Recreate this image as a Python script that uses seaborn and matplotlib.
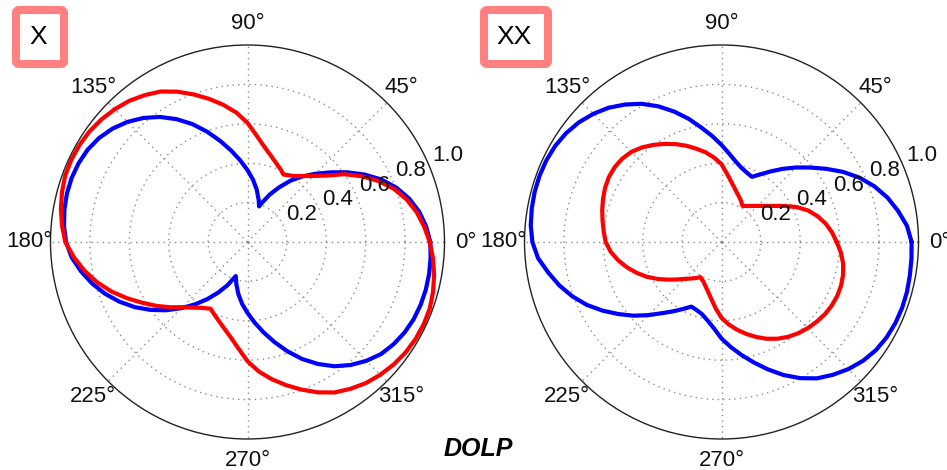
import numpy as np
import matplotlib
matplotlib.use("Agg")
import matplotlib.pyplot as plt
import seaborn as sns
from matplotlib.patches import FancyBboxPatch
from matplotlib.transforms import IdentityTransform, offset_copy

# ---------------- data ----------------
panel_labels = ["X", "XX"]
angle_ticks = [0, 45, 90, 135, 180, 225, 270, 315]
angle_tick_labels = ["0°", "45°", "90°", "135°", "180°", "225°", "270°", "315°"]
radial_ticks = [0.2, 0.4, 0.6, 0.8, 1.0]
radial_tick_labels = ["0.2", "0.4", "0.6", "0.8", "1.0"]

# panel X, blue curve (angle in degrees, DOLP)
x_blue_theta = [0, 5, 10, 15, 20, 25, 30, 35, 40, 45, 50, 55, 60, 65, 70, 72, 75, 80, 85, 90,
                95, 100, 105, 110, 115, 120, 125, 130, 135, 140, 145, 150, 155, 160, 165, 170,
                175, 180, 185, 190, 195, 200, 205, 210, 215, 220, 225, 230, 235, 240, 245, 251,
                255, 260, 265, 270, 275, 280, 285, 290, 295, 300, 305, 310, 315, 320, 325, 330,
                335, 340, 345, 350, 355, 360]
x_blue_r = [0.928, 0.91, 0.885, 0.85, 0.805, 0.75, 0.685, 0.617, 0.55, 0.49, 0.435, 0.38, 0.32,
            0.265, 0.21, 0.19, 0.22, 0.27, 0.318, 0.365, 0.415, 0.47, 0.53, 0.595, 0.66, 0.72,
            0.775, 0.822, 0.862, 0.895, 0.92, 0.937, 0.946, 0.95, 0.949, 0.944, 0.935, 0.921,
            0.896, 0.858, 0.816, 0.769, 0.717, 0.661, 0.601, 0.539, 0.475, 0.413, 0.353, 0.296,
            0.243, 0.183, 0.22, 0.268, 0.315, 0.36, 0.41, 0.465, 0.525, 0.59, 0.655, 0.715,
            0.77, 0.815, 0.853, 0.885, 0.905, 0.92, 0.93, 0.935, 0.937, 0.936, 0.933, 0.928]

# panel X, red curve
x_red_theta = [0, 5, 10, 15, 20, 25, 30, 35, 40, 45, 50, 55, 62, 65, 70, 75, 80, 85, 90,
               95, 100, 105, 110, 115, 120, 125, 130, 135, 140, 145, 150, 155, 160, 165, 170,
               175, 180, 185, 190, 195, 200, 205, 210, 215, 220, 225, 230, 235, 241, 245, 250,
               255, 260, 265, 270, 275, 280, 285, 290, 295, 300, 305, 310, 315, 320, 325, 330,
               335, 340, 345, 350, 355, 360]
x_red_r = [0.925, 0.9, 0.872, 0.836, 0.79, 0.733, 0.668, 0.6, 0.525, 0.474, 0.437, 0.409, 0.388,
           0.403, 0.426, 0.455, 0.491, 0.541, 0.605, 0.66, 0.707, 0.752, 0.797, 0.842, 0.882,
           0.91, 0.935, 0.953, 0.968, 0.979, 0.985, 0.987, 0.985, 0.975, 0.962, 0.945, 0.925,
           0.885, 0.84, 0.79, 0.735, 0.675, 0.617, 0.565, 0.515, 0.468, 0.435, 0.408, 0.387,
           0.403, 0.426, 0.455, 0.491, 0.541, 0.605, 0.66, 0.707, 0.752, 0.797, 0.842, 0.882,
           0.91, 0.935, 0.953, 0.968, 0.979, 0.985, 0.987, 0.985, 0.975, 0.962, 0.945, 0.925]

# panel XX, blue curve
xx_blue_theta = [0, 5, 10, 15, 20, 25, 30, 35, 40, 45, 50, 55, 60, 65, 70, 75, 80, 85, 90,
                 95, 100, 105, 110, 115, 120, 125, 130, 135, 140, 145, 150, 155, 160, 165, 170,
                 175, 180, 185, 190, 195, 200, 205, 210, 215, 220, 225, 230, 235, 240, 245, 250,
                 255, 260, 265, 270, 275, 280, 285, 290, 295, 300, 305, 310, 315, 320, 325, 330,
                 335, 340, 345, 350, 355, 360]
xx_blue_r = [0.965, 0.945, 0.91, 0.872, 0.826, 0.773, 0.712, 0.648, 0.588, 0.535, 0.485, 0.438,
             0.397, 0.365, 0.375, 0.39, 0.415, 0.45, 0.493, 0.54, 0.59, 0.648, 0.705, 0.76, 0.81,
             0.852, 0.89, 0.92, 0.945, 0.963, 0.975, 0.981, 0.983, 0.982, 0.978, 0.972, 0.96,
             0.935, 0.893, 0.852, 0.806, 0.755, 0.697, 0.638, 0.582, 0.525, 0.472, 0.43, 0.393,
             0.362, 0.368, 0.38, 0.405, 0.44, 0.49, 0.535, 0.582, 0.633, 0.688, 0.745, 0.798,
             0.845, 0.88, 0.912, 0.938, 0.957, 0.968, 0.974, 0.976, 0.975, 0.971, 0.968, 0.965]

# panel XX, red curve
xx_red_theta = [0, 5, 10, 15, 20, 25, 30, 35, 40, 45, 50, 55, 60, 65, 70, 75, 80, 85, 90,
                95, 100, 105, 110, 115, 120, 125, 130, 135, 140, 145, 150, 155, 160, 165, 170,
                175, 180, 185, 190, 195, 200, 205, 210, 215, 220, 225, 230, 235, 239, 245, 250,
                255, 260, 265, 270, 275, 280, 285, 290, 295, 300, 305, 310, 315, 320, 325, 330,
                335, 340, 345, 350, 355, 360]
xx_red_r = [0.585, 0.563, 0.537, 0.505, 0.468, 0.42, 0.366, 0.319, 0.285, 0.259, 0.239, 0.223,
            0.212, 0.233, 0.251, 0.274, 0.304, 0.344, 0.395, 0.43, 0.462, 0.49, 0.52, 0.548,
            0.575, 0.602, 0.627, 0.647, 0.658, 0.662, 0.66, 0.652, 0.64, 0.627, 0.613, 0.6,
            0.588, 0.565, 0.533, 0.497, 0.458, 0.418, 0.375, 0.333, 0.296, 0.265, 0.242, 0.223,
            0.208, 0.22, 0.238, 0.262, 0.295, 0.338, 0.385, 0.42, 0.452, 0.483, 0.513, 0.542,
            0.567, 0.588, 0.605, 0.619, 0.63, 0.64, 0.646, 0.648, 0.646, 0.639, 0.627, 0.608,
            0.585]

panels = [
    (x_blue_theta, x_blue_r, x_red_theta, x_red_r),
    (xx_blue_theta, xx_blue_r, xx_red_theta, xx_red_r),
]

# ---------------- style ----------------
sns.set_style("white")
plt.rcParams['font.family'] = ['Liberation Sans', 'DejaVu Sans']

W, H = 947, 470
fig = plt.figure(figsize=(W / 100, H / 100), dpi=100)

centers = [(247.5, 242.0), (721.5, 242.0)]
R = 197.0
BLUE = (0.0, 0.0, 1.0)
RED = (1.0, 0.0, 0.0)
TXT = '#111111'

for (cx, cy), (bt, br, rt, rr) in zip(centers, panels):
    pos = [(cx - R) / W, (H - cy - R) / H, 2 * R / W, 2 * R / H]
    ax = fig.add_axes(pos, projection='polar')
    sns.lineplot(x=np.deg2rad(bt), y=br, ax=ax, color=BLUE, lw=3.0,
                 sort=False, estimator=None)
    sns.lineplot(x=np.deg2rad(rt), y=rr, ax=ax, color=RED, lw=3.0,
                 sort=False, estimator=None)
    ax.set_ylim(0, 1.0)
    ax.set_xlabel("")
    ax.set_ylabel("")
    ax.set_xticks(np.deg2rad(angle_ticks))
    ax.set_xticklabels([])
    ax.set_yticks(radial_ticks[:-1])
    ax.set_yticklabels([])
    ax.grid(True, color='#8c8c8c', linestyle=(0, (1, 3)), linewidth=1.0)
    ax.spines['polar'].set_color('#222222')
    ax.spines['polar'].set_linewidth(1.0)
    ax.set_facecolor('white')
    # angle labels, centred on a ring just outside the plot circle
    for a, lab in zip(angle_ticks, angle_tick_labels):
        ax.text(np.deg2rad(a), 1.107, lab, ha='center', va='center', fontsize=16,
                color=TXT, clip_on=False)
    # radial labels
    tr = offset_copy(ax.transData, fig=fig, x=2, y=2, units='dots')
    for v, lab in zip(radial_ticks, radial_tick_labels):
        ax.text(np.deg2rad(22), v, lab, transform=tr, ha='left', va='bottom',
                fontsize=16, color=TXT, zorder=5)

# panel label boxes (pixel coordinates)
boxes = [(16, H - 64, 48, 54), (484, H - 64, 64, 54)]
text_centers = [(38.5, 37.0), (514.5, 37.5)]
for (bx, by, bw, bh), (tx, ty), lab in zip(boxes, text_centers, panel_labels):
    fig.patches.append(FancyBboxPatch((bx, by), bw, bh,
                                      boxstyle="round,pad=0,rounding_size=3",
                                      transform=IdentityTransform(), fill=False,
                                      edgecolor='#FF8080', linewidth=5.8))
    fig.text(tx / W, 1 - ty / H, lab, ha='center', va='center', fontsize=19, color='black')

fig.text(478 / W, 1 - 449 / H, "DOLP", ha='center', va='center', fontsize=18,
         fontweight='bold', fontstyle='italic', color='black')

fig.savefig("out.png", dpi=100, facecolor='white')
